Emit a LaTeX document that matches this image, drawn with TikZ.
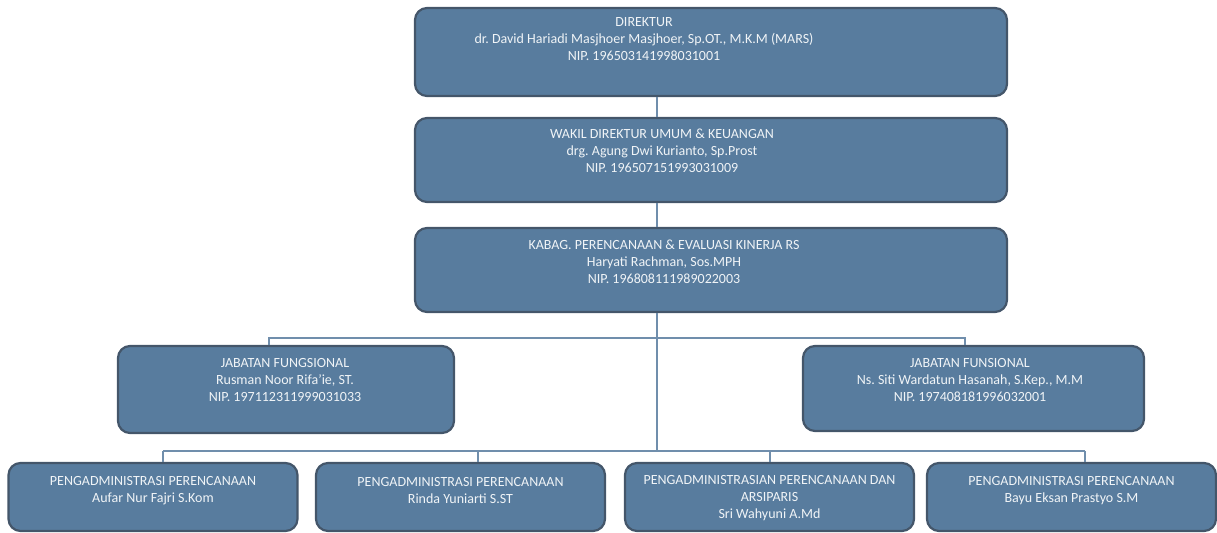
\documentclass[tikz,border=0pt]{standalone}
\usepackage{fontspec}
\setmainfont{Carlito}
\usepackage{tikz}
\usetikzlibrary{calc,positioning}
\frenchspacing

\definecolor{boxblue}{RGB}{88,124,158}
\definecolor{boxedge}{RGB}{68,86,106}
\definecolor{linkblue}{RGB}{112,142,172}
\definecolor{txtwhite}{RGB}{240,244,247}

\tikzset{
    unit/.style={draw=boxedge, line width=1.1pt, fill=boxblue, rounded corners=6pt, inner sep=0pt},
    unittext/.style={text=txtwhite, font=\fontsize{7}{8.5}\selectfont, align=center, inner sep=0pt},
    link/.style={draw=linkblue, line width=1pt}
}

\begin{document}
\begin{tikzpicture}[x=0.5pt,y=-0.5pt]
        \useasboundingbox (0,0) rectangle (1217,533);
        \coordinate (trunk) at (657,0);
        \coordinate (jbus) at (0,338);
        \coordinate (pbus) at (0,451);

        \node[unit, minimum width=296pt, minimum height=44pt] (dir) at (711,52) {};
        \node[unit, minimum width=296pt, minimum height=42pt] (wadir) at (711,160) {};
        \node[unit, minimum width=296pt, minimum height=42pt] (kabag) at (711,270) {};
        \node[unit, minimum width=168pt, minimum height=43.5pt] (jfl) at (286,389.5) {};
        \node[unit, minimum width=170.5pt, minimum height=42.5pt] (jfr) at (973.5,388.5) {};

        \node[unittext] (dir-t) at (644,39) {DIREKTUR\\dr. David Hariadi Masjhoer Masjhoer, Sp.OT., M.K.M (MARS)\\NIP. 196503141998031001};
        \node[unittext] (wadir-t) at (662,151) {WAKIL DIREKTUR UMUM \& KEUANGAN\\drg. Agung Dwi Kurianto, Sp.Prost\\NIP. 196507151993031009};
        \node[unittext] (kabag-t) at (664,262) {KABAG. PERENCANAAN \& EVALUASI KINERJA RS\\Haryati Rachman, Sos.MPH\\NIP. 196808111989022003};
        \node[unittext] (jfl-t) at (285,380) {JABATAN FUNGSIONAL\\Rusman Noor Rifa’ie, ST.\\NIP. 197112311999031033};
        \node[unittext] (jfr-t) at (970,380) {JABATAN FUNSIONAL\\Ns. Siti Wardatun Hasanah, S.Kep., M.M\\NIP. 197408181996032001};

        \foreach \n/\x/\s/\ty/\t in {pa/153/5/491/{PENGADMINISTRASI PERENCANAAN\\Aufar Nur Fajri S.Kom},
                pb/460.5/8.75/491/{PENGADMINISTRASI PERENCANAAN\\Rinda Yuniarti S.ST},
                pc/769.5/0/498/{PENGADMINISTRASIAN PERENCANAAN DAN\\ARSIPARIS\\Sri Wahyuni A.Md},
                pd/1071.5/6.75/491/{PENGADMINISTRASI PERENCANAAN\\Bayu Eksan Prastyo S.M}}
        {
        \node[unit, minimum width=144.5pt, minimum height=34pt] (\n) at (\x,497) {};
        \node[unittext] (\n-t) at (\x,\ty) {\t};
        \coordinate (\n-c) at ([xshift=\s pt]\n.north);
        \draw[link] (\n-c) -- (\n-c |- pbus);
        }

        \draw[link] (dir.south -| trunk) -- (wadir.north -| trunk);
        \draw[link] (wadir.south -| trunk) -- (kabag.north -| trunk);
        \draw[link] (kabag.south -| trunk) -- (trunk |- pbus);
        \coordinate (jl) at ([xshift=-8.5pt]jfl.north);
        \coordinate (jr) at ([xshift=-4.25pt]jfr.north);
        \draw[link] (jl) -- (jl |- jbus) -- (jr |- jbus) -- (jr);
        \draw[link] (pa-c |- pbus) -- (pd-c |- pbus);
    \end{tikzpicture}
\end{document}
